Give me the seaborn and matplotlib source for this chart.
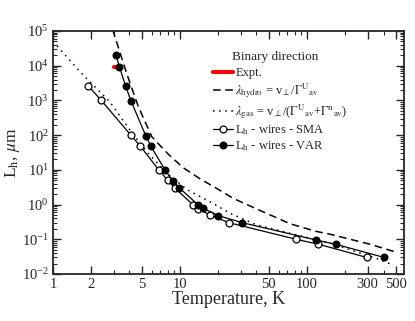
import numpy as np
import pandas as pd
import seaborn as sns
import matplotlib
matplotlib.use("Agg")
import matplotlib.pyplot as plt
from matplotlib.ticker import FixedLocator, NullFormatter, LogLocator

# values
expt_T = [3.0, 3.3]
expt_L = [9000, 9000]

hydro_T = [2.95, 3.8, 4.7, 6.0, 8.1, 10.6, 14.4, 19.5, 26.3, 45.0, 73.5, 117, 152, 313, 510]
hydro_L = [1.1e5, 6000, 660, 90, 28, 11.5, 5.5, 2.9, 1.5, 0.62, 0.28, 0.17, 0.14, 0.072, 0.042]

gas_T = [1.0, 1.63, 2.81, 4.03, 5.47, 7.85, 11.5, 17.2, 24.8, 40.0, 73.5, 152, 354, 480]
gas_L = [50000, 6700, 900, 141, 33.5, 8.0, 2.63, 1.21, 0.56, 0.26, 0.149, 0.077, 0.028, 0.018]

sma_T = [1.9, 2.4, 4.1, 4.85, 6.8, 8.0, 9.1, 12.6, 13.8, 17.2, 24.3, 82, 123, 295]
sma_L = [2600, 1000, 100, 49, 10, 5.0, 3.0, 1.0, 0.77, 0.5, 0.3, 0.1, 0.072, 0.03]

var_T = [3.13, 3.33, 3.73, 4.1, 5.37, 5.88, 7.65, 8.75, 9.85, 13.8, 15.3, 20, 31, 117, 168, 404]
var_L = [20500, 9400, 2600, 990, 97, 49, 9.7, 4.85, 3.05, 1.0, 0.78, 0.48, 0.3, 0.096, 0.072, 0.03]

xticks = [1, 2, 5, 10, 50, 100, 300, 500]

sns.set_style("ticks")
plt.rcParams['font.family'] = ['Liberation Serif', 'DejaVu Serif']
plt.rcParams['mathtext.fontset'] = 'stix'

fig = plt.figure(figsize=(4.15, 3.21), dpi=100)
ax = fig.add_axes([53/415, 1-274/321, 351/415, 243/321])

sns.lineplot(x=expt_T, y=expt_L, ax=ax, color='red', lw=3, sort=False, label='Expt.')
sns.lineplot(x=hydro_T, y=hydro_L, ax=ax, color='black', lw=1.1, sort=False,
             linestyle=(0, (5, 3)),
             label=r'$\lambda_{\rm hydro}$ = v$_\perp$/$\Gamma^{\rm U}$$_{\rm av}$')
sns.lineplot(x=gas_T, y=gas_L, ax=ax, color='black', lw=1.1, sort=False,
             linestyle=(0, (1, 3)),
             label=r'$\lambda_{\rm gas}$ = v$_\perp$/($\Gamma^{\rm U}$$_{\rm av}$+$\Gamma^{\rm n}$$_{\rm av}$)')
sns.lineplot(x=sma_T, y=sma_L, ax=ax, color='black', lw=0.9, sort=False,
             marker='o', markersize=5, markerfacecolor='white', markeredgecolor='black',
             markeredgewidth=0.9, label=r'L$_{\rm h}$ - wires - SMA')
sns.lineplot(x=var_T, y=var_L, ax=ax, color='black', lw=0.9, sort=False,
             marker='o', markersize=5, markerfacecolor='black', markeredgecolor='black',
             label=r'L$_{\rm h}$ - wires - VAR')

ax.set_xscale('log')
ax.set_yscale('log')
ax.set_xlim(1, 580)
ax.set_ylim(1e-2, 1e5)

ax.xaxis.set_major_locator(FixedLocator(xticks))
ax.set_xticklabels([str(t) for t in xticks])
ax.xaxis.set_minor_locator(LogLocator(base=10, subs=np.arange(1, 10)))
ax.xaxis.set_minor_formatter(NullFormatter())
ax.yaxis.set_major_locator(LogLocator(base=10, numticks=10))
ax.yaxis.set_minor_locator(LogLocator(base=10, subs=np.arange(2, 10), numticks=20))
ax.yaxis.set_minor_formatter(NullFormatter())

ax.tick_params(which='both', direction='in', top=True, right=True, labelsize=10.5, pad=3)
ax.tick_params(which='major', length=6, width=1)
ax.tick_params(which='minor', length=3, width=0.8)
for s in ax.spines.values():
    s.set_linewidth(1.3)

ax.set_xlabel('Temperature, K', fontsize=13, labelpad=0)
ax.set_ylabel(r'L$_{\rm h}$, $\mu$m', fontsize=12.5, labelpad=0)

ax.legend(loc='upper left', bbox_to_anchor=(0.455, 0.852), frameon=False, fontsize=9,
          handlelength=1.6, handletextpad=0.2, labelspacing=0.18, borderpad=0, borderaxespad=0)
ax.text(0.51, 0.895, 'Binary direction', transform=ax.transAxes, fontsize=9.5, va='center')

fig.savefig('out.png', dpi=100)
